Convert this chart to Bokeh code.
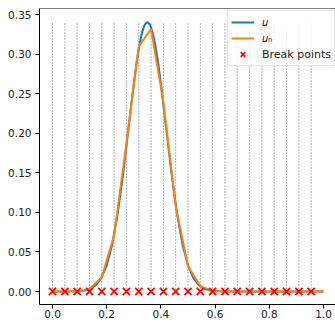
from bokeh.plotting import figure
from bokeh.models import Range1d, FixedTicker, NumeralTickFormatter, Legend, LegendItem, Span
from bokeh.embed import file_html
from bokeh.resources import INLINE

# exact function u
u_x = [0.00, 0.04, 0.08, 0.10, 0.12, 0.14, 0.16, 0.18, 0.20, 0.22, 0.24, 0.26, 0.28,
       0.30, 0.31, 0.32, 0.33, 0.34, 0.35, 0.36, 0.37, 0.38, 0.39, 0.40, 0.42, 0.44,
       0.46, 0.48, 0.50, 0.52, 0.54, 0.56, 0.58, 0.60, 0.62, 0.66, 0.70, 0.80, 0.90, 1.00]
u_y = [0.0, 0.0, 0.0002, 0.0005, 0.0014, 0.0035, 0.0081, 0.0170, 0.0330, 0.0591, 0.0972,
       0.1472, 0.2052, 0.2631, 0.2889, 0.3106, 0.3271, 0.3375, 0.3410, 0.3375, 0.3271,
       0.3106, 0.2889, 0.2631, 0.2052, 0.1472, 0.0972, 0.0591, 0.0330, 0.0170, 0.0081,
       0.0035, 0.0014, 0.0005, 0.0002, 0.0, 0.0, 0.0, 0.0, 0.0]

# break points
breaks = [0.0000, 0.0455, 0.0909, 0.1364, 0.1818, 0.2273, 0.2727, 0.3182, 0.3636, 0.4091,
          0.4545, 0.5000, 0.5455, 0.5909, 0.6364, 0.6818, 0.7273, 0.7727, 0.8182, 0.8636,
          0.9091, 0.9545]
breaks_y = [0.0] * len(breaks)

# piecewise linear approximation u_n (nodes = break points + right end)
un_x = breaks + [1.0]
un_y = [0.0, 0.0, 0.0001, 0.003, 0.018, 0.071, 0.187, 0.310, 0.332, 0.240, 0.108, 0.032,
        0.0065, 0.0009, 0.0001, 0.0, 0.0, 0.0, 0.0, 0.0, 0.0, 0.0, 0.0]

x_ticks = [0.0, 0.2, 0.4, 0.6, 0.8, 1.0]
y_ticks = [0.00, 0.05, 0.10, 0.15, 0.20, 0.25, 0.30, 0.35]

top_val = max(u_y)

p = figure(width=335, height=322, output_backend="svg", toolbar_location=None,
           x_range=Range1d(-0.048, 1.0443), y_range=Range1d(-0.01644, 0.358),
           min_border_left=39, min_border_right=0, min_border_top=8, min_border_bottom=18)
p.grid.visible = False
p.outline_line_color = None
p.background_fill_color = "white"

p.add_layout(Span(location=0.358, dimension="width", line_color="black", line_width=1))

for ax in (p.xaxis[0], p.yaxis[0]):
    ax.axis_line_color = "black"
    ax.major_tick_line_color = "black"
    ax.major_tick_out = 4
    ax.major_tick_in = 0
    ax.minor_tick_line_color = None
    ax.major_label_text_font = "DejaVu Sans"
    ax.major_label_text_font_size = "10.5px"
    ax.major_label_text_color = "#222222"
    ax.major_label_standoff = 4

p.xaxis[0].ticker = FixedTicker(ticks=x_ticks)
p.xaxis[0].formatter = NumeralTickFormatter(format="0.0")
p.xaxis[0].major_label_standoff = 1
p.yaxis[0].ticker = FixedTicker(ticks=y_ticks)
p.yaxis[0].formatter = NumeralTickFormatter(format="0.00")

p.segment(x0=breaks, y0=breaks_y, x1=breaks, y1=[top_val] * len(breaks),
          line_color="#6a6a6a", line_dash="1 2", line_width=1)

r_u = p.line(u_x, u_y, line_color="#1f77b4", line_width=2)
r_un = p.line(un_x, un_y, line_color="#ff7f0e", line_width=2)
r_bp = p.scatter(breaks, breaks_y, marker="x", size=10, line_color="red", line_width=1.8)

legend = Legend(items=[LegendItem(label="𝑢", renderers=[r_u]),
                       LegendItem(label="𝑢ₙ", renderers=[r_un]),
                       LegendItem(label="Break points", renderers=[r_bp])],
                location=(188, 238))
legend.label_text_font = "DejaVu Sans"
legend.label_text_font_size = "11px"
legend.label_text_color = "#222222"
legend.glyph_width = 23
legend.glyph_height = 16
legend.label_height = 16
legend.label_standoff = 8
legend.padding = 3
legend.spacing = 0
legend.margin = 0
legend.border_line_color = "#cccccc"
legend.background_fill_alpha = 0.8
p.add_layout(legend)

open("out.html", "w").write(file_html(p, INLINE))
